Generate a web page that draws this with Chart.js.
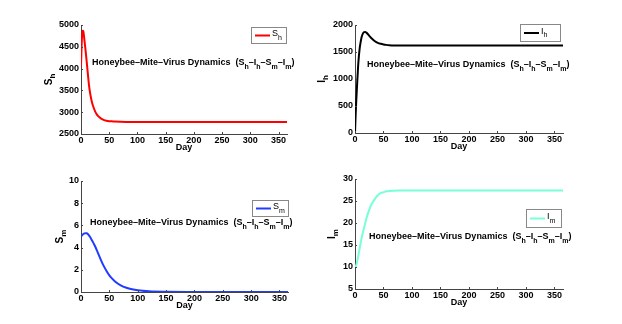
<!DOCTYPE html>
<html>
<head>
<meta charset="utf-8">
<script src="https://cdn.jsdelivr.net/npm/chart.js@4.4.0/dist/chart.umd.min.js"></script>
<style>
body { margin: 0; background: #fff; }
#wrap { position: relative; width: 622px; height: 324px; }
canvas { position: absolute; }
</style>
</head>
<body>
<div id="wrap">
  <canvas id="c0" width="311" height="162" style="left:0;top:0"></canvas>
  <canvas id="c1" width="311" height="162" style="left:311px;top:0"></canvas>
  <canvas id="c2" width="311" height="162" style="left:0;top:162px"></canvas>
  <canvas id="c3" width="311" height="162" style="left:311px;top:162px"></canvas>
</div>
<script>
// day samples
var days = [0, 1, 2, 3, 4, 5, 6, 8, 10, 12, 14, 16, 18, 20, 22, 25, 28, 30, 35, 40,
            45, 50, 55, 60, 70, 80, 90, 100, 120, 150, 200, 250, 300, 365];
var sh = [4050, 4500, 4780, 4870, 4860, 4780, 4660, 4430, 4170, 3900, 3640, 3450, 3310, 3200, 3120, 3020, 2950, 2915, 2860, 2825,
          2805, 2795, 2790, 2785, 2780, 2778, 2778, 2778, 2778, 2778, 2778, 2778, 2778, 2778];
var ih = [0, 300, 550, 760, 960, 1150, 1320, 1550, 1690, 1790, 1845, 1866, 1870, 1858, 1838, 1800, 1765, 1745, 1700, 1670,
          1652, 1640, 1632, 1627, 1622, 1620, 1619, 1619, 1619, 1619, 1619, 1619, 1619, 1619];
var sm = [5.0, 5.06, 5.12, 5.17, 5.22, 5.25, 5.28, 5.3, 5.29, 5.22, 5.1, 4.95, 4.78, 4.6, 4.4, 4.1, 3.75, 3.5, 2.9, 2.35,
          1.9, 1.5, 1.2, 0.95, 0.6, 0.38, 0.24, 0.15, 0.06, 0.02, 0.005, 0, 0, 0];
var im = [10.0, 10.1, 10.4, 10.8, 11.4, 12.0, 12.7, 14.1, 15.5, 16.8, 17.9, 19.0, 20.0, 21.0, 21.9, 23.0, 24.0, 24.5, 25.5, 26.3,
          26.8, 27.0, 27.2, 27.3, 27.35, 27.4, 27.4, 27.4, 27.4, 27.4, 27.4, 27.4, 27.4, 27.4];

var titleParts = [['Honeybee\u2013Mite\u2013Virus Dynamics  (S', 'h'], ['\u2013I', 'h'], ['\u2013S', 'm'], ['\u2013I', 'm'], [')', '']];

var FONT = "'Liberation Sans', Arial, sans-serif";

function richWidth(ctx, parts, size, weight) {
  var w = 0;
  parts.forEach(function (p) {
    ctx.font = weight + ' ' + size + 'px ' + FONT;
    w += ctx.measureText(p[0]).width;
    if (p[1]) {
      ctx.font = weight + ' ' + Math.round(size * 0.75) + 'px ' + FONT;
      w += ctx.measureText(p[1]).width;
    }
  });
  return w;
}

function drawRich(ctx, parts, x, y, size, weight) {
  ctx.textBaseline = 'middle';
  ctx.textAlign = 'left';
  parts.forEach(function (p) {
    ctx.font = weight + ' ' + size + 'px ' + FONT;
    ctx.fillText(p[0], x, y);
    x += ctx.measureText(p[0]).width;
    if (p[1]) {
      ctx.font = weight + ' ' + Math.round(size * 0.75) + 'px ' + FONT;
      ctx.fillText(p[1], x, y + size * 0.4);
      x += ctx.measureText(p[1]).width;
    }
  });
}

var deco = {
  id: 'deco',
  afterDraw: function (chart, args, o) {
    var ctx = chart.ctx, a = chart.chartArea;
    ctx.save();
    // inward ticks
    ctx.strokeStyle = '#444';
    ctx.lineWidth = 1;
    var xs = chart.scales.x, ys = chart.scales.y;
    xs.ticks.forEach(function (t) {
      var px = Math.round(xs.getPixelForValue(t.value)) + 0.5;
      ctx.beginPath(); ctx.moveTo(px, a.bottom); ctx.lineTo(px, a.bottom - 2); ctx.stroke();
    });
    ys.ticks.forEach(function (t) {
      var py = Math.round(ys.getPixelForValue(t.value)) + 0.5;
      ctx.beginPath(); ctx.moveTo(a.left, py); ctx.lineTo(a.left + 2, py); ctx.stroke();
    });

    // y label, rotated
    ctx.fillStyle = '#000';
    var yl = o.ylab;
    var w = richWidth(ctx, yl, 10, 'bold');
    ctx.translate(a.left - o.ylabDx, (a.top + a.bottom) / 2);
    ctx.rotate(-Math.PI / 2);
    drawRich(ctx, yl, -w / 2, 0, 10, 'bold');
    ctx.setTransform(1, 0, 0, 1, 0, 0);

    // annotation
    drawRich(ctx, titleParts, o.noteX, a.top + o.noteDy, 9, 'bold');

    // legend box
    var L = o.legend;
    var bx = a.right - L.dr - L.w, by = a.top + L.dt;
    ctx.fillStyle = '#fff';
    ctx.fillRect(bx, by, L.w, L.h);
    ctx.strokeStyle = '#888';
    ctx.strokeRect(bx + 0.5, by + 0.5, L.w, L.h);
    ctx.strokeStyle = chart.data.datasets[0].borderColor;
    ctx.lineWidth = 2;
    ctx.beginPath(); ctx.moveTo(bx + 4, by + L.h / 2 + 0.5); ctx.lineTo(bx + 19, by + L.h / 2 + 0.5); ctx.stroke();
    ctx.fillStyle = '#000';
    drawRich(ctx, o.ylab, bx + 21, by + L.h / 2 - 1, 9, 'normal');
    ctx.restore();
  }
};

function makeChart(id, label, values, color, yMin, yMax, yStep, area, extra) {
  var W = 311, H = 162, yW = 36, xH = 19;
  var pts = days.map(function (d, i) { return { x: d, y: values[i] }; });
  var tickFont = { family: FONT, size: 9, weight: 'bold' };
  return new Chart(document.getElementById(id), {
    type: 'line',
    data: {
      datasets: [{
        label: label,
        data: pts,
        borderColor: color,
        borderWidth: 2,
        pointRadius: 0,
        cubicInterpolationMode: 'monotone',
        fill: false
      }]
    },
    options: {
      responsive: false,
      animation: false,
      devicePixelRatio: 1,
      layout: {
        autoPadding: false,
        padding: { left: area.left - yW, right: W - area.right, top: area.top, bottom: H - area.bottom - xH }
      },
      plugins: {
        legend: { display: false },
        tooltip: { enabled: false },
        deco: extra
      },
      scales: {
        x: {
          type: 'linear',
          min: 0, max: 365,
          afterFit: function (s) { s.height = xH; },
          grid: { display: true, drawOnChartArea: false, drawTicks: false },
          border: { display: true, color: '#444', width: 1 },
          ticks: { stepSize: 50, includeBounds: false, padding: 1, maxRotation: 0, color: '#000',
                   font: tickFont, callback: function (v) { return String(v); } },
          title: { display: true, text: 'Day', color: '#000', padding: 0, font: tickFont }
        },
        y: {
          min: yMin, max: yMax,
          afterFit: function (s) { s.width = yW; },
          grid: { display: true, drawOnChartArea: false, drawTicks: false },
          border: { display: true, color: '#444', width: 1 },
          ticks: { stepSize: yStep, padding: 2, color: '#000',
                   font: tickFont, callback: function (v) { return String(v); } }
        }
      }
    },
    plugins: [deco]
  });
}

makeChart('c0', 'Sh', sh, '#ff0000', 2500, 5000, 500,
  { left: 81, right: 287, top: 25, bottom: 134 },
  { ylab: [['S', 'h']], ylabDx: 32, noteX: 92, noteDy: 38,
    legend: { w: 35, h: 16, dr: 1, dt: 2 } });

makeChart('c1', 'Ih', ih, '#000000', 0, 2000, 500,
  { left: 44, right: 252, top: 25, bottom: 133 },
  { ylab: [['I', 'h']], ylabDx: 33, noteX: 56, noteDy: 40,
    legend: { w: 40, h: 17, dr: 3, dt: -1 } });

makeChart('c2', 'Sm', sm, '#1f3cff', 0, 10, 2,
  { left: 81, right: 288, top: 19, bottom: 130 },
  { ylab: [['S', 'm']], ylabDx: 21, noteX: 90, noteDy: 42,
    legend: { w: 36, h: 16, dr: 0, dt: 19 } });

makeChart('c3', 'Im', im, '#78ffd8', 5, 30, 5,
  { left: 44, right: 252, top: 17, bottom: 127 },
  { ylab: [['I', 'm']], ylabDx: 23, noteX: 58, noteDy: 58,
    legend: { w: 35, h: 18, dr: 2, dt: 30 } });
</script>
</body>
</html>
